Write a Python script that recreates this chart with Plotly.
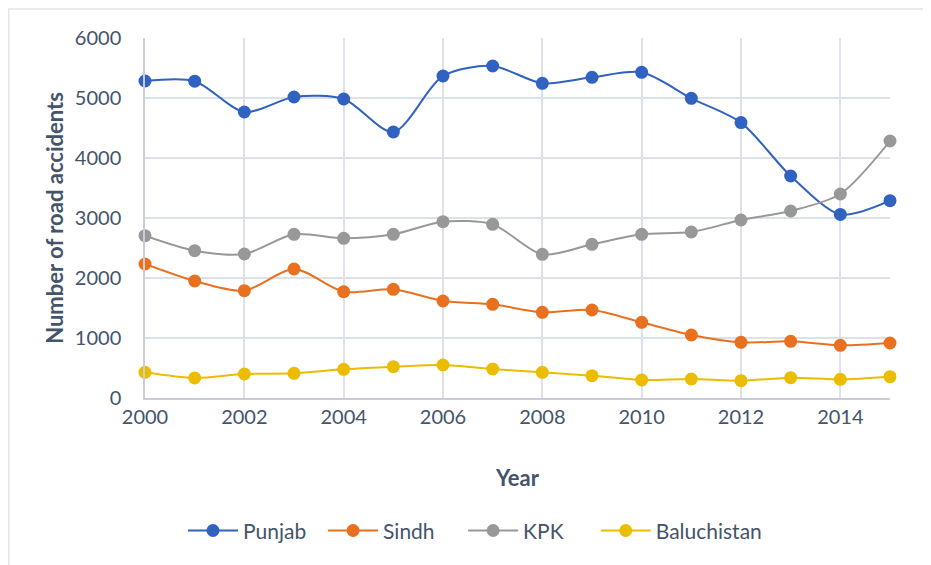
import plotly.graph_objects as go

years = list(range(2000, 2016))
punjab = [5283, 5280, 4767, 5017, 4983, 4433, 5367, 5533, 5245, 5345, 5428, 4995, 4590, 3700, 3060, 3288]
sindh = [2233, 1950, 1789, 2150, 1772, 1811, 1617, 1561, 1428, 1467, 1261, 1050, 928, 944, 878, 917]
kpk = [2705, 2455, 2400, 2728, 2661, 2728, 2939, 2894, 2394, 2561, 2728, 2767, 2967, 3117, 3400, 4283]
baluchistan = [428, 333, 400, 411, 478, 522, 550, 483, 428, 372, 300, 317, 289, 339, 311, 355]

series = [("Punjab", punjab, "#3062c1"), ("Sindh", sindh, "#e8701f"),
          ("KPK", kpk, "#989898"), ("Baluchistan", baluchistan, "#ecbc00")]

FONT = "Lato, 'Open Sans', sans-serif"
TXT = "#44546a"

legend_ids = ["legend", "legend2", "legend3", "legend4"]
legend_x = [0.051, 0.239, 0.427, 0.605]

fig = go.Figure()
for (name, vals, col), lid in zip(series, legend_ids):
    fig.add_trace(go.Scatter(
        x=years, y=vals, name=name, mode="lines+markers",
        line=dict(color=col, width=2, shape="spline", smoothing=0.8),
        marker=dict(color=col, size=13, line=dict(width=0)),
        cliponaxis=False, legend=lid,
    ))

legends = {}
for lid, lx in zip(legend_ids, legend_x):
    legends[lid] = dict(orientation="h", x=lx, xanchor="left", y=-0.369, yanchor="middle",
                        font=dict(size=21, color=TXT), itemwidth=50,
                        bgcolor="rgba(0,0,0,0)")

fig.update_layout(
    width=923, height=557,
    margin=dict(l=137, r=41, t=30, b=167, autoexpand=False),
    paper_bgcolor="white", plot_bgcolor="white",
    font=dict(family=FONT, size=20, color=TXT),
    showlegend=True,
    shapes=[dict(type="rect", xref="paper", yref="paper",
                 x0=-0.1829, x1=1.07, y0=-0.49, y1=1.0806,
                 line=dict(color="#e1e4e9", width=1.5))],
    **legends,
)
fig.update_xaxes(
    range=[2000, 2015], tick0=2000, dtick=2, automargin=False,
    showgrid=True, gridcolor="#dde1e8", gridwidth=1.5,
    showline=True, linecolor="#c8ced8", linewidth=1.5,
    zeroline=False, ticks="", tickfont=dict(size=20, color=TXT),
    title=dict(text="<b>Year</b>", font=dict(size=22, color=TXT), standoff=44),
)
fig.update_yaxes(
    range=[0, 6000], dtick=1000, automargin=False,
    showgrid=True, gridcolor="#dde1e8", gridwidth=1.5,
    showline=True, linecolor="#c8ced8", linewidth=1.5,
    zeroline=False, ticks="", ticklabelstandoff=18, tickfont=dict(size=20, color=TXT),
    title=dict(text="<b>Number of road accidents</b>", font=dict(size=22, color=TXT), standoff=5),
)

fig.write_html("out.html")
